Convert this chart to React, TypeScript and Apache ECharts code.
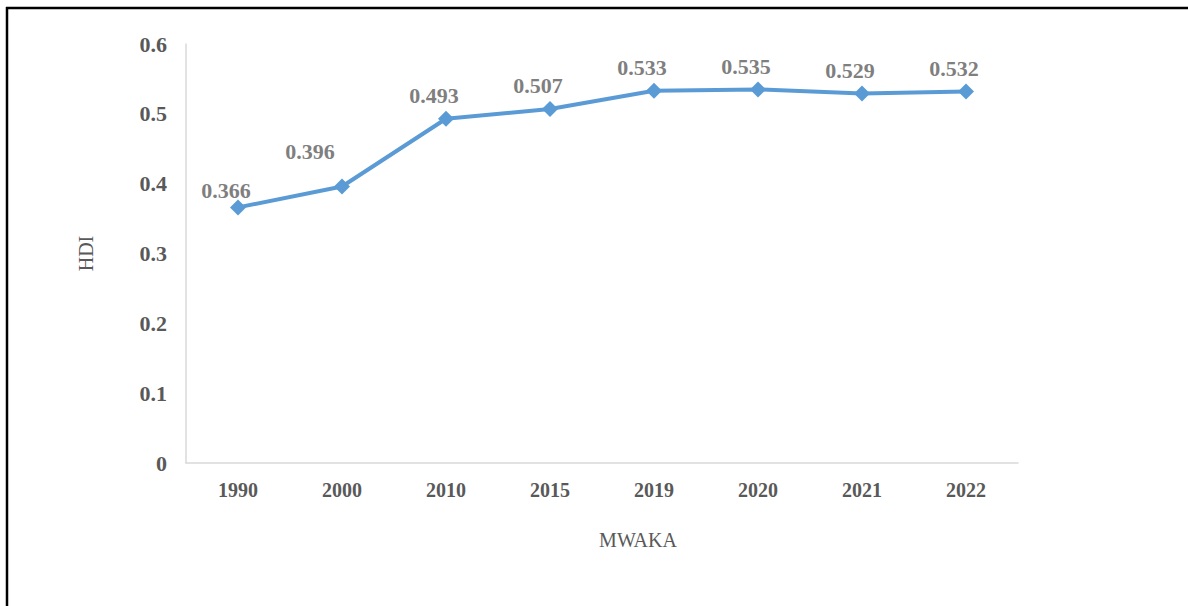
import React, { useEffect, useRef } from "react";
import * as echarts from "echarts";

const years: string[] = ["1990", "2000", "2010", "2015", "2019", "2020", "2021", "2022"];
const hdiValues: number[] = [0.366, 0.396, 0.493, 0.507, 0.533, 0.535, 0.529, 0.532];
const yAxisTitle = "HDI";
const xAxisTitle = "MWAKA";

const SERIF = "'Times New Roman', 'Liberation Serif', serif";
const BLUE = "#5B9BD5";
const AXIS_GREY = "#D9D9D9";
const TICK_TEXT = "#595959";
const LABEL_TEXT = "#7F7F7F";

// label nudges (style only) by point index
const labelNudge: Record<number, number[]> = { 1: [-32, -12], 0: [-12, 6] };

export default function App() {
  const ref = useRef<HTMLDivElement>(null);
  useEffect(() => {
    if (!ref.current) return;
    const chart = echarts.init(ref.current, null, { renderer: "svg" });
    const seriesData = hdiValues.map((v, i) => ({
      value: v,
      label: { offset: labelNudge[i] || [-12, 0] },
    }));
    chart.setOption({
      animation: false,
      backgroundColor: "#FFFFFF",
      grid: { left: 186, right: 170, top: 44, bottom: 143, containLabel: false },
      xAxis: {
        type: "category",
        data: years,
        boundaryGap: true,
        name: xAxisTitle,
        nameLocation: "middle",
        nameGap: 67,
        nameTextStyle: {
          fontFamily: SERIF,
          fontSize: 20,
          color: TICK_TEXT,
          padding: [0, 0, 0, 72],
        },
        axisLine: { lineStyle: { color: AXIS_GREY, width: 1.5 } },
        axisTick: { show: false },
        axisLabel: {
          margin: 17,
          fontFamily: SERIF,
          fontWeight: "bold",
          fontSize: 20,
          color: TICK_TEXT,
        },
        splitLine: { show: false },
      },
      yAxis: {
        type: "value",
        min: 0,
        max: 0.6,
        interval: 0.1,
        name: yAxisTitle,
        nameLocation: "middle",
        nameGap: 90,
        nameRotate: 90,
        nameTextStyle: { fontFamily: SERIF, fontSize: 20, color: TICK_TEXT },
        axisLine: { show: true, lineStyle: { color: AXIS_GREY, width: 1.5 } },
        axisTick: { show: false },
        axisLabel: {
          margin: 19,
          fontFamily: SERIF,
          fontWeight: "bold",
          fontSize: 22,
          color: TICK_TEXT,
        },
        splitLine: { show: false },
      },
      series: [
        {
          type: "line",
          data: seriesData,
          symbol: "diamond",
          symbolSize: 16,
          lineStyle: { color: BLUE, width: 4 },
          itemStyle: { color: BLUE },
          label: {
            show: true,
            position: "top",
            distance: 4,
            fontFamily: SERIF,
            fontWeight: "bold",
            fontSize: 22,
            color: LABEL_TEXT,
            formatter: (p: any) => p.value.toFixed(3),
          },
        },
      ],
      graphic: [
        {
          type: "line",
          shape: { x1: 6, y1: 8, x2: 1188, y2: 8 },
          style: { stroke: "#000000", lineWidth: 2.5 },
        },
        {
          type: "line",
          shape: { x1: 7, y1: 7, x2: 7, y2: 606 },
          style: { stroke: "#000000", lineWidth: 2.5 },
        },
      ],
    });
    return () => chart.dispose();
  }, []);
  return (
    <div
      ref={ref}
      style={{ position: "absolute", left: 0, top: 0, width: 1188, height: 606 }}
    />
  );
}
